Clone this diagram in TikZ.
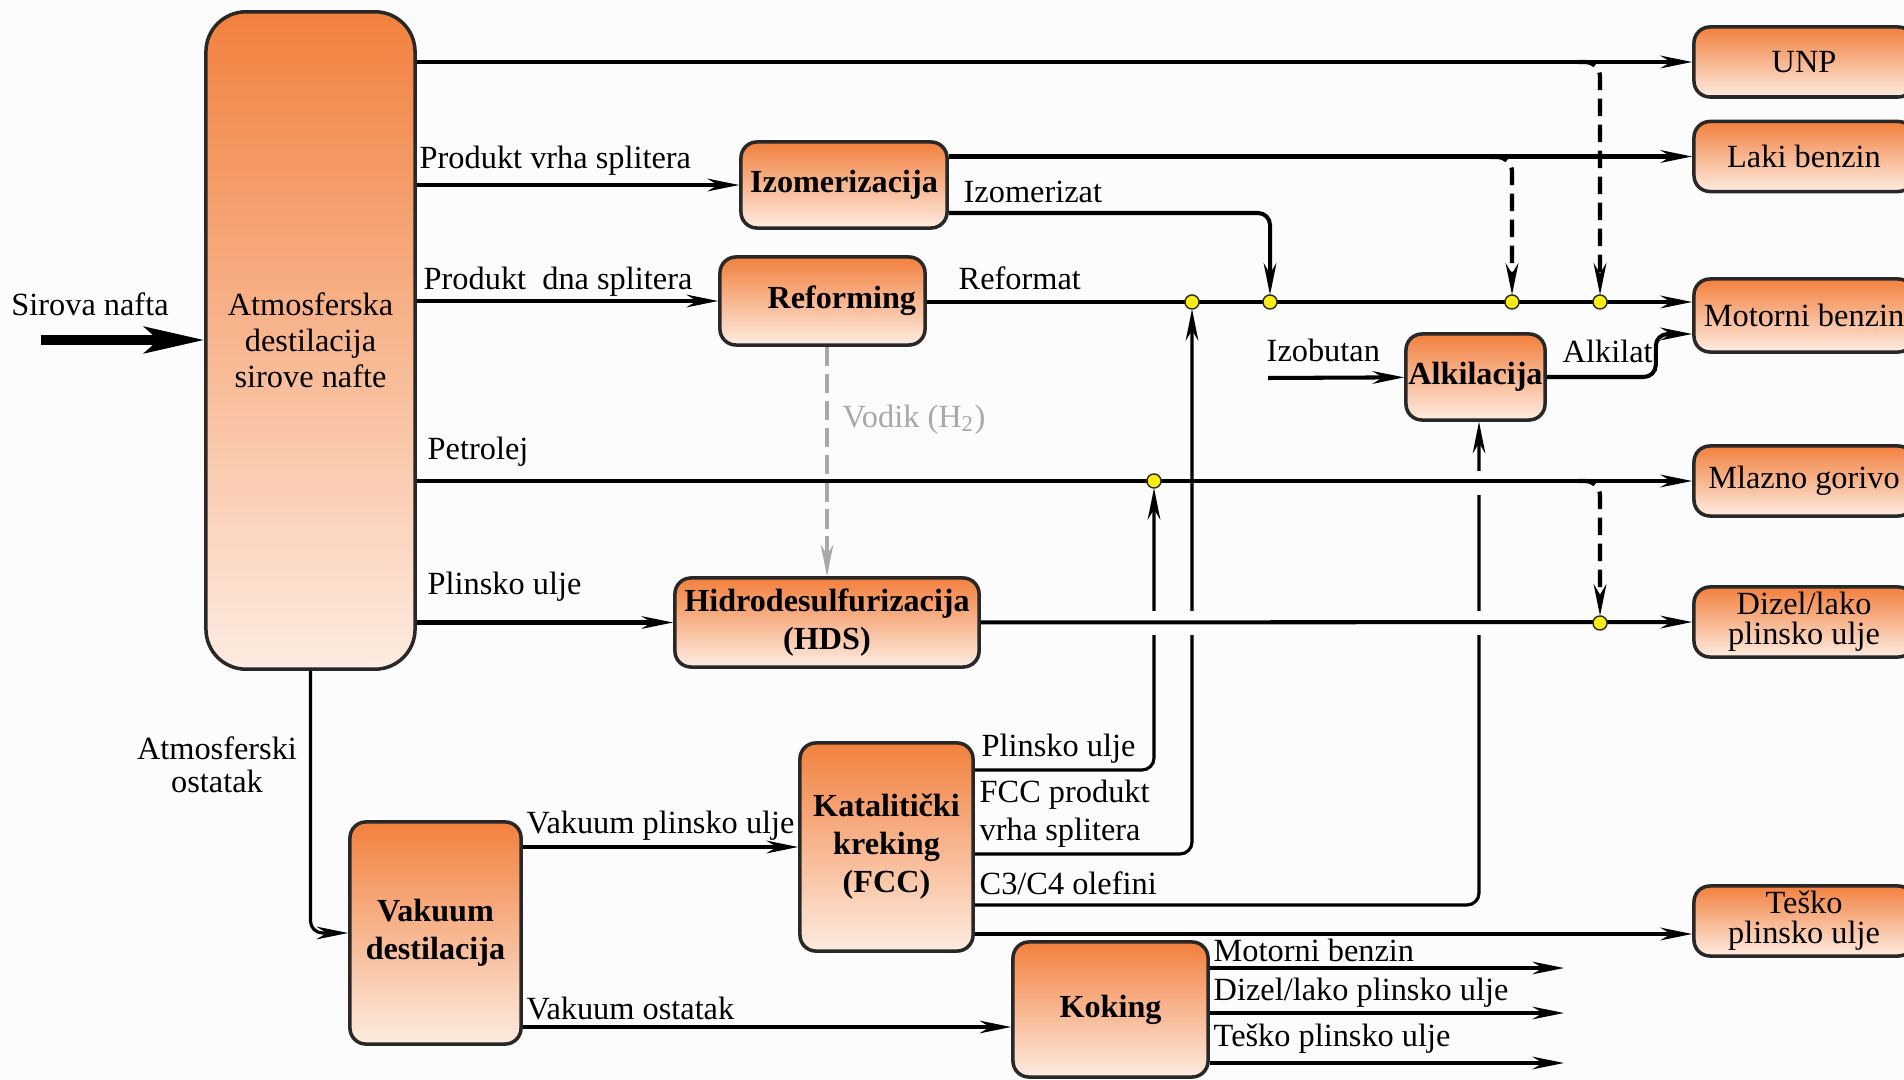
\documentclass[tikz,border=0pt]{standalone}
\usepackage{fontspec}
\setmainfont{Liberation Serif}
\usetikzlibrary{arrows.meta}

\definecolor{boxtop}{RGB}{242,128,62}
\definecolor{boxbot}{RGB}{253,236,225}
\definecolor{boxline}{RGB}{40,40,40}
\definecolor{papir}{RGB}{252,252,252}
\definecolor{vodik}{RGB}{168,168,168}
\definecolor{tocka}{RGB}{250,236,20}

\begin{document}
\begin{tikzpicture}[x=0.01cm, y=-0.01cm,
  every node/.style={font=\fontsize{9.2}{10.8}\selectfont},
  proces/.style={draw=boxline, line width=1pt, rounded corners=1.6mm, top color=boxtop, bottom color=boxbot,
    align=center, inner sep=0pt, font=\fontsize{9.15}{10.8}\selectfont\bfseries},
  izlaz/.style={proces, font=\fontsize{9.2}{8.6}\selectfont, minimum width=2.2cm, minimum height=0.7cm},
  tok/.style={line width=1.15pt, -{Stealth[length=9pt, width=3.6pt]}},
  tanki/.style={tok, line width=0.9pt, rounded corners=1.2mm},
  crtkani/.style={tok, line width=1.2pt, dash pattern=on 5pt off 2.4pt, rounded corners=1.5mm},
  natpis/.style={anchor=west, inner sep=0pt}]
\useasboundingbox (0,0) rectangle (1904,1080);
\fill[papir] (0,0) rectangle (1904,1080);

% procesi
\node[proces, font=\fontsize{9.2}{10.3}\selectfont, rounded corners=4mm, minimum width=2.09cm, minimum height=6.57cm] (ATM) at (310.5,340.5) {Atmosferska\\destilacija\\sirove nafte};
\node[proces, minimum width=2.06cm, minimum height=0.86cm] (IZO) at (844,185) {Izomerizacija};
\node[proces, minimum width=2.05cm, minimum height=0.88cm] (REF) at (822.5,301) {\hspace{1.2em}Reforming};
\node[proces, minimum width=1.39cm, minimum height=0.86cm] (ALK) at (1475.5,377) {Alkilacija};
\node[proces, minimum width=3.04cm, minimum height=0.89cm] (HDS) at (827,622.5) {Hidrodesulfurizacija\\(HDS)};
\node[proces, minimum width=1.71cm, minimum height=2.22cm] (VAK) at (435.5,933) {Vakuum\\destilacija};
\node[proces, minimum width=1.73cm, minimum height=2.08cm] (FCC) at (886.5,847) {Katalitički\\kreking\\(FCC)};
\node[proces, minimum width=1.95cm, minimum height=1.35cm] (KOK) at (1110.5,1009.5) {Koking};

% proizvodi
\node[izlaz] (UNP) at (1804,62) {UNP};
\node[izlaz] (LAK) at (1804,156.5) {Laki benzin};
\node[izlaz, minimum height=0.73cm] (MOT) at (1804,315.5) {Motorni benzin};
\node[izlaz] (MLA) at (1804,481) {Mlazno gorivo};
\node[izlaz] (DIZ) at (1804,622) {Dizel/lako\\plinsko ulje};
\node[izlaz] (TES) at (1804,921) {Teško\\plinsko ulje};

% tocke spajanja i slobodni krajevi
\coordinate (T1) at (1192,302);
\coordinate (T2) at (1270,302);
\coordinate (T3) at (1512,302);
\coordinate (T4) at (1600,302);
\coordinate (T5) at (1154,481);
\coordinate (T6) at (1600,623);
\coordinate (SN) at (41,340);
\coordinate (IB) at (1268,378);
\coordinate (B1) at (1490,157);
\coordinate (B2) at (1578,62);
\coordinate (B3) at (1578,481);
\coordinate (K1) at (1564,968);
\coordinate (K2) at (1564,1013);
\coordinate (K3) at (1564,1063);

% izlazi iz FCC-a (crtaju se prvi zbog prekida)
\draw[tanki, shorten >=2pt] (FCC.east |- 0,770) -| (T5);
\draw[tanki, shorten >=2pt] (FCC.east |- 0,854) -| (T1);
\draw[tanki] (FCC.east |- 0,905) -| (ALK.south -| 1479,0);
\foreach \x/\y in {1154/623, 1192/623, 1479/623, 1479/483}
  \fill[papir] (\x-6,\y-12) rectangle (\x+6,\y+12);
\draw[tok] (FCC.east |- 0,934) -- (TES.west |- 0,934);

\draw[line width=2.6pt, -{Stealth[length=17pt, width=7.5pt, inset=4pt]}] (SN) -- (ATM.west |- SN);
\node (lSN) at (90,304) {Sirova nafta};

\draw[tok] (ATM.east |- UNP) -- (UNP);
\draw[tok] (ATM.east |- IZO) -- (IZO);
\draw[tok] (IZO.east |- LAK) -- (LAK);
\draw[tok, rounded corners=1.2mm, shorten >=2pt] (IZO.east |- 0,213) -| (T2);
\draw[tok] (ATM.east |- REF) -- (REF);
\draw[tok] (REF.east |- T1) -- (MOT.west |- T1);
\draw[tok] (IB) -- (ALK);
\draw[tok, rounded corners=1.2mm] (ALK.east) -- ++(109,0) |- (MOT.west |- 0,334);
\draw[tok, line width=0.9pt, vodik, dash pattern=on 5.5pt off 2.2pt] (REF.south -| HDS) -- (HDS);
\draw[tok] (ATM.east |- MLA) -- (MLA);
\draw[tok] (ATM.east |- HDS) -- (HDS);
\draw[tok] (HDS) -- (DIZ);
\draw[tanki] (ATM.south) |- (VAK);
\draw[tok] (VAK.east |- FCC) -- (FCC);
\draw[tanki] (VAK.east |- 0,1027) -- (KOK.west |- 0,1027);
\foreach \k in {K1,K2,K3}
  \draw[tanki] (KOK.east |- \k) -- (\k);

% mijesanje u motorni benzin i dizel
\draw[crtkani, shorten >=2pt] (B1) -| (T3);
\draw[crtkani, shorten >=2pt] (B2) -| (T4);
\draw[crtkani, shorten >=2pt] (B3) -| (T6);
\foreach \t in {T1,T2,T3,T4,T5,T6}
  \filldraw[fill=tocka, draw=boxline, line width=0.4pt] (\t) circle (2pt);

% natpisi
\node[natpis] (lPV) at (419,161) {Produkt vrha splitera};
\node[natpis] (lPD) at (423,282) {Produkt\ \ dna splitera};
\node[natpis] (lIZ) at (963,192) {Izomerizat};
\node[natpis] (lRF) at (958,278) {Reformat};
\node[natpis] (lIB) at (1266,350) {Izobutan};
\node[natpis] (lAK) at (1562,351) {Alkilat};
\node[natpis, text=vodik] (lH2) at (842,420) {Vodik (H\textsubscript{2})};
\node[natpis] (lPE) at (427,452) {Petrolej};
\node[natpis] (lPU) at (427,587) {Plinsko ulje};
\node[align=center, font=\fontsize{9.2}{9.4}\selectfont] (lAO) at (217,765) {Atmosferski\\ostatak};
\node[natpis] (lVP) at (526,826) {Vakuum plinsko ulje};
\node[natpis] (lVO) at (526,1009) {Vakuum ostatak};
\node[natpis] (lFP) at (981,749) {Plinsko ulje};
\node[natpis, align=left] (lFV) at (979,814) {FCC produkt\\vrha splitera};
\node[natpis] (lC3) at (979,883) {C3/C4 olefini};
\node[natpis] (lK1) at (1213,950) {Motorni benzin};
\node[natpis] (lK2) at (1213,993) {Dizel/lako plinsko ulje};
\node[natpis] (lK3) at (1213,1039) {Teško plinsko ulje};
\end{tikzpicture}
\end{document}
